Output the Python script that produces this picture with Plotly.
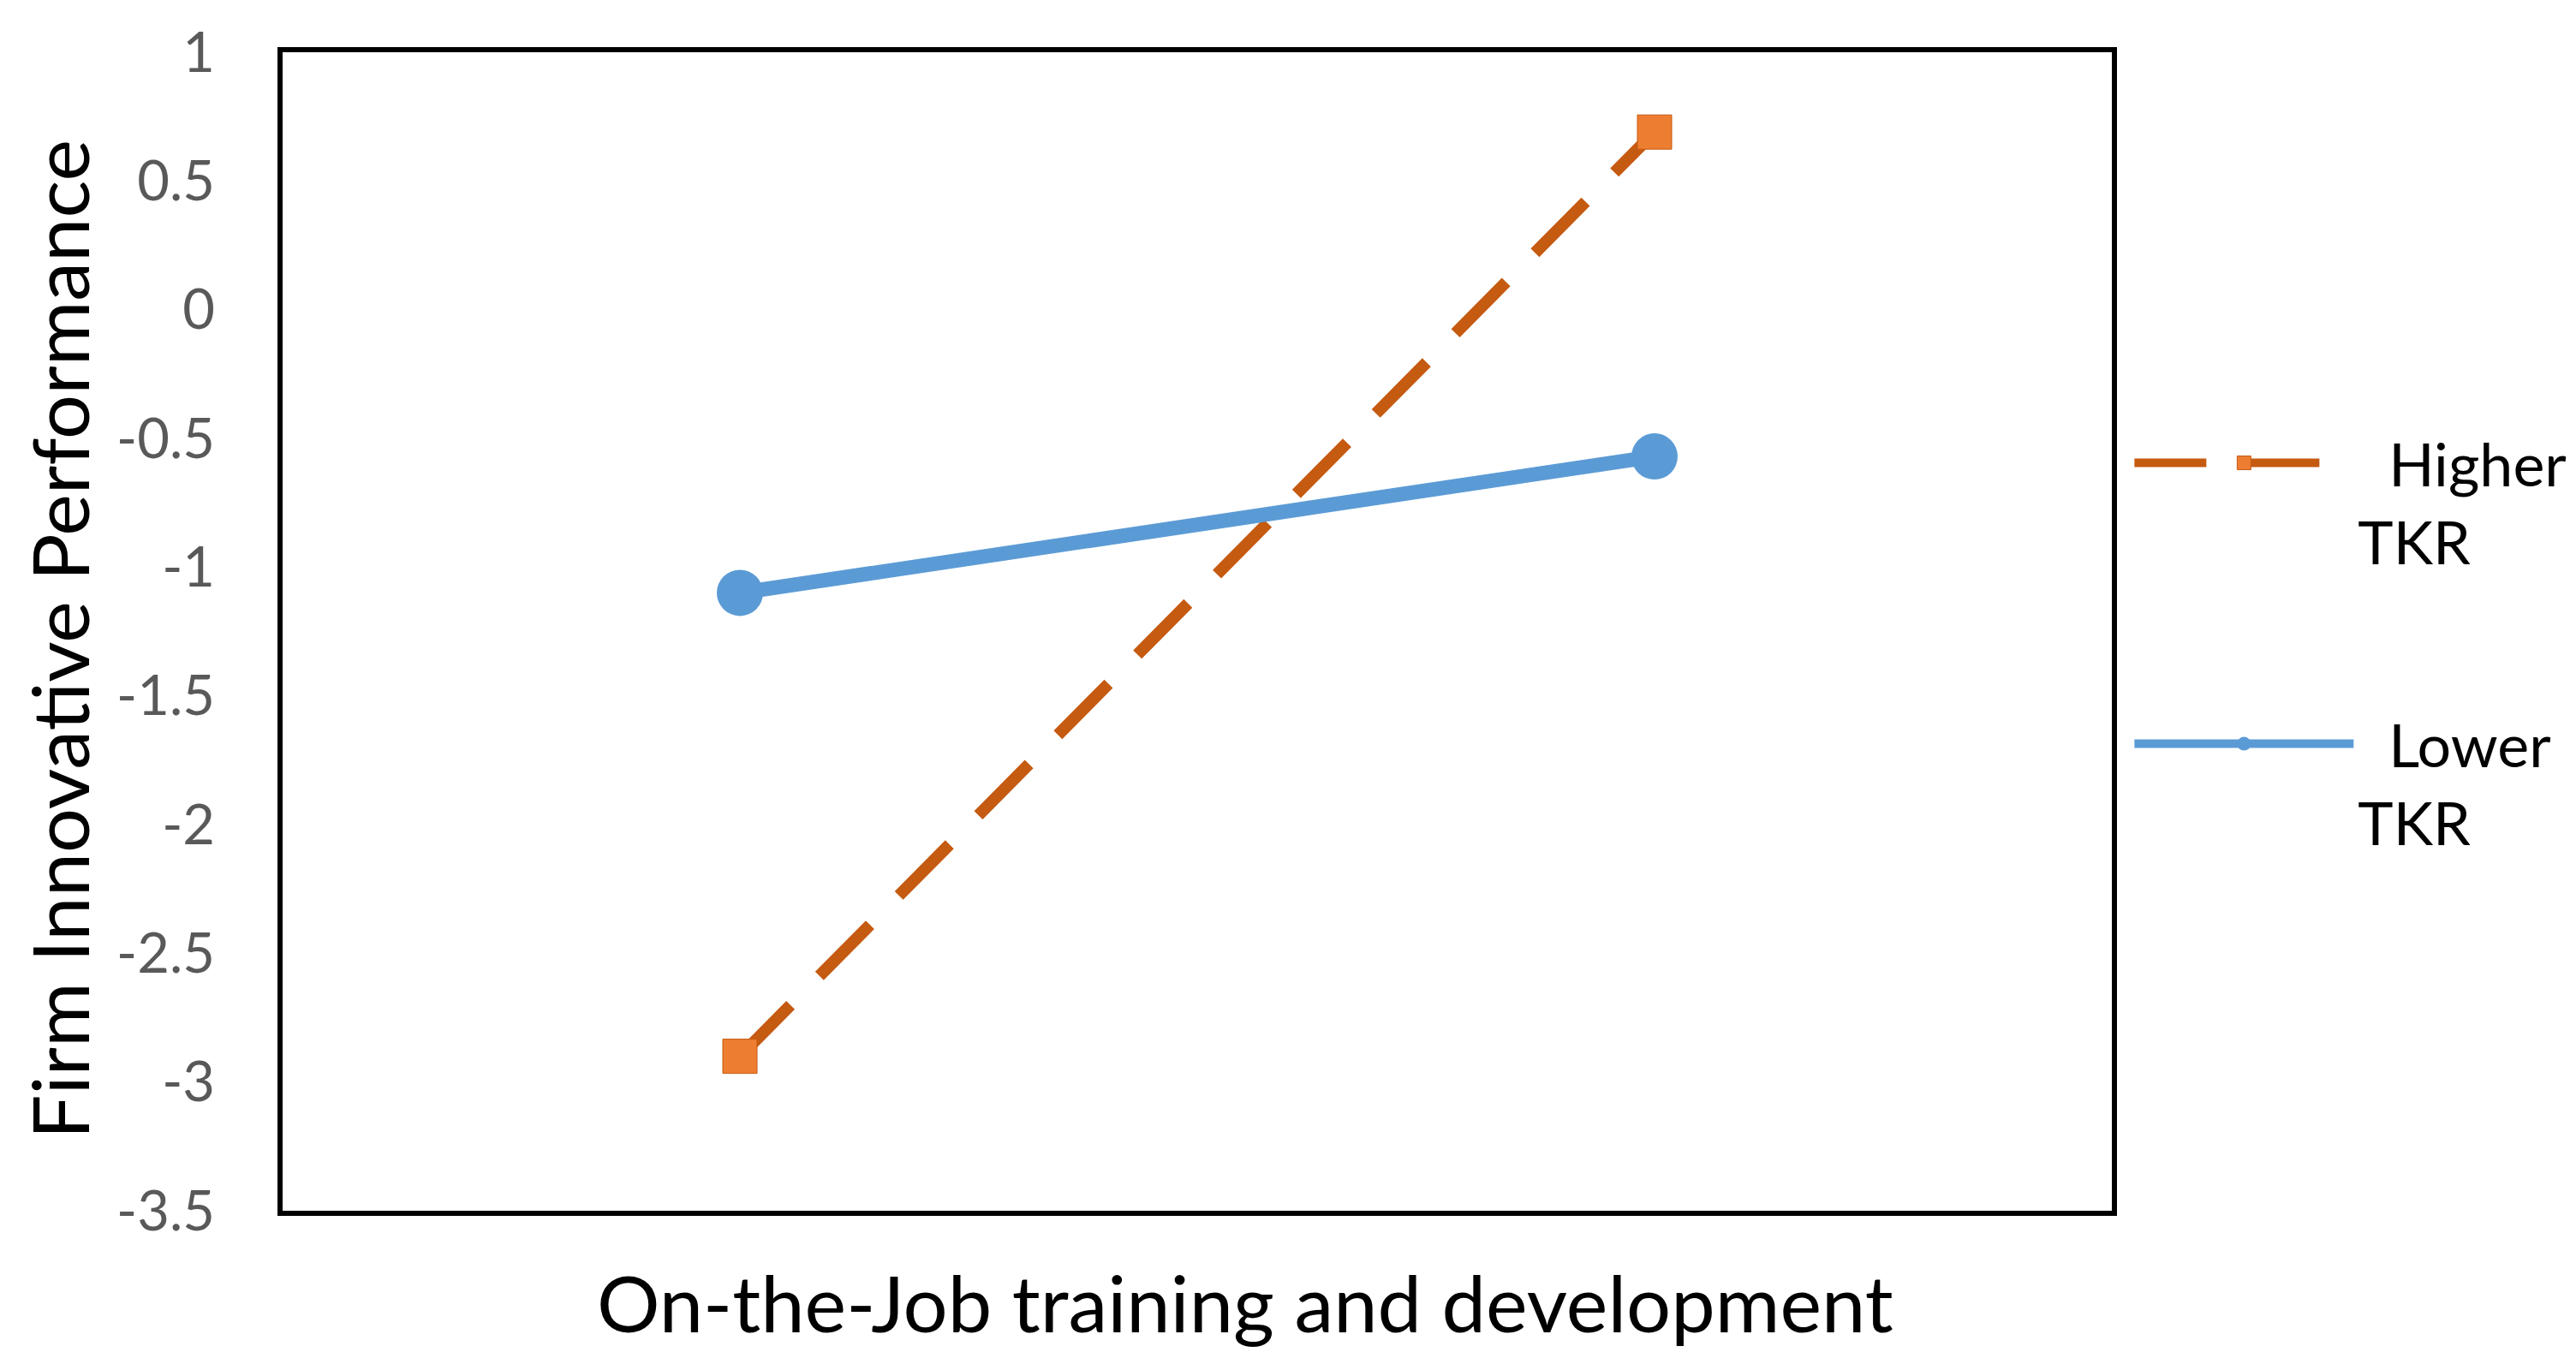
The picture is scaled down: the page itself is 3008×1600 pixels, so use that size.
import plotly.graph_objects as go

# ---- data ----
categories = ["Low", "High"]
higher_tkr = [-2.90, 0.69]
lower_tkr = [-1.10, -0.57]
series_names = ["\u00a0\u00a0Higher<br>TKR", "\u00a0\u00a0Lower<br>TKR"]
y_tickvals = [1, 0.5, 0, -0.5, -1, -1.5, -2, -2.5, -3, -3.5]
y_ticktext = ["1", "0.5", "0", "-0.5", "-1", "-1.5", "-2", "-2.5", "-3", "-3.5"]
x_title = "On-the-Job training and development"
y_title = "Firm Innovative Performance"

FONT = "Lato, Carlito, Calibri, 'Open Sans', sans-serif"

fig = go.Figure()
fig.add_trace(go.Scatter(
    x=categories, y=higher_tkr, name=series_names[0], mode="lines+markers",
    line=dict(color="#C55A11", width=14, dash="84px,48px"),
    marker=dict(symbol="square", size=40, color="#ED7D31",
                line=dict(color="#C55A11", width=1)),
    legendgroup="g1",
))
fig.add_trace(go.Scatter(
    x=categories, y=lower_tkr, name=series_names[1], mode="lines+markers",
    line=dict(color="#5B9BD5", width=17),
    marker=dict(symbol="circle", size=54, color="#5B9BD5"),
    legendgroup="g2",
))

fig.update_layout(
    width=3008, height=1600,
    margin=dict(l=322, r=550, t=50, b=194),
    paper_bgcolor="white", plot_bgcolor="white",
    showlegend=True,
    legend=dict(
        x=1.010, xanchor="left", y=0.684, yanchor="top",
        font=dict(family=FONT, size=70, color="black"),
        itemwidth=256, valign="top", tracegroupgap=143,
        traceorder="grouped", bgcolor="rgba(0,0,0,0)",
    ),
    xaxis=dict(
        type="category", categoryorder="array", categoryarray=categories,
        range=[-0.5, 1.5], showticklabels=False, showgrid=False, zeroline=False,
        showline=True, linecolor="black", linewidth=6, mirror=True, ticks="",
    ),
    yaxis=dict(
        range=[-3.5, 1], tickvals=y_tickvals, ticktext=y_ticktext,
        showgrid=False, zeroline=False,
        showline=True, linecolor="black", linewidth=6, mirror=True, ticks="",
        tickfont=dict(family=FONT, size=65, color="#595959"),
        ticklabelstandoff=60,
    ),
    annotations=[
        dict(text=x_title, xref="paper", yref="paper", x=0.5262, y=-0.079,
             xanchor="center", yanchor="middle", showarrow=False,
             font=dict(family=FONT, size=92, color="black")),
        dict(text=y_title, xref="paper", yref="paper", x=-0.122, y=0.493,
             xanchor="center", yanchor="middle", showarrow=False, textangle=-90,
             font=dict(family=FONT, size=92, color="black")),
    ],
)

fig.write_html("out.html")
